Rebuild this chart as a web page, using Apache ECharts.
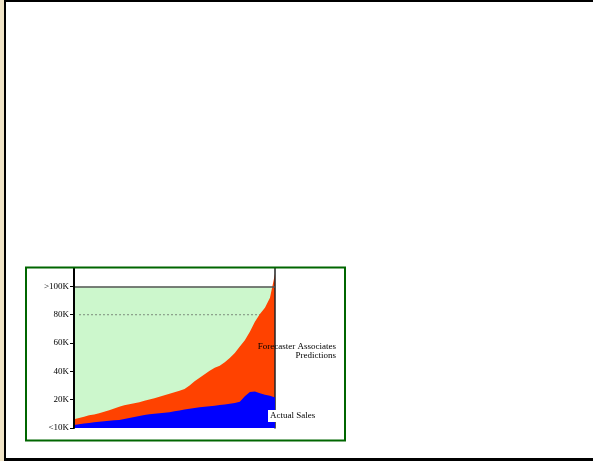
<!DOCTYPE html>
<html><head><meta charset="utf-8">
<script src="https://cdn.jsdelivr.net/npm/echarts@6/dist/echarts.min.js"></script>
<style>html,body{margin:0;padding:0;background:#fff}#c{width:593px;height:461px}</style>
</head><body><div id="c"></div>
<script>
// x positions (index only, no x labels in the original)
var categories = [];
for (var i = 0; i < 41; i++) categories.push(String(i + 1));

// Y tick labels (value -> label)
var tickValues = [0, 20, 40, 60, 80, 100];
var tickLabels = ['<10K', '20K', '40K', '60K', '80K', '>100K'];

// Forecaster Associates Predictions (top of the red area)
var predictions = [6.1, 7, 8, 9, 9.5, 10.5, 11.5, 12.5, 13.8, 15, 16, 16.8, 17.5, 18.2, 19.2, 20.2, 21, 22, 23.2, 24.2,
  25.2, 26.3, 27.5, 30, 33, 35.5, 38, 40.5, 42.5, 44, 46.5, 49.5, 53, 57.5, 62, 68, 75, 80.5, 85, 92, 109];

// Actual Sales (top of the blue area)
var actualSales = [2.1, 2.6, 3.1, 3.5, 4, 4.5, 4.8, 5.1, 5.4, 5.6, 6.3, 7, 7.7, 8.4, 9.1, 9.7, 10, 10.4, 10.8, 11.2,
  11.8, 12.4, 13, 13.6, 14.1, 14.6, 15, 15.4, 15.8, 16.2, 16.6, 17.1, 17.6, 18.5, 22.5, 25.5, 25.8, 24.5, 23.5, 22.8, 21.6];

// Background (>100K ceiling) and the 80K reference level
var ceiling = [];
var level80 = [];
for (var j = 0; j < categories.length; j++) { ceiling.push(100); level80.push(j === 0 ? null : 80); }

var chart = echarts.init(document.getElementById('c'), null, {renderer: 'canvas'});
var serif = '"Liberation Serif", "DejaVu Serif", serif';
chart.setOption({
  animation: false,
  backgroundColor: '#ffffff',
  grid: {left: 74, right: 318, top: 268, bottom: 33, containLabel: false},
  xAxis: {
    type: 'category', data: categories, boundaryGap: false,
    axisLine: {show: false}, axisTick: {show: false}, axisLabel: {show: false}, splitLine: {show: false}
  },
  yAxis: [{
    type: 'value', min: 0, max: 113, position: 'left', z: 10,
    axisLine: {show: true, onZero: false, lineStyle: {color: '#000', width: 2}},
    axisTick: {show: true, length: 4, inside: false, customValues: tickValues, lineStyle: {color: '#000', width: 1}},
    axisLabel: {
      show: true, customValues: tickValues, margin: 5, color: '#000', fontSize: 9, fontFamily: serif,
      formatter: function (v) { var k = tickValues.indexOf(v); return k >= 0 ? tickLabels[k] : ''; }
    },
    splitLine: {show: false}
  }, {
    type: 'value', min: 0, max: 113, position: 'right', z: 2,
    axisLine: {show: true, onZero: false, lineStyle: {color: '#222', width: 1.5}},
    axisTick: {show: false}, axisLabel: {show: false}, splitLine: {show: false}
  }],
  series: [{
    name: 'Ceiling', type: 'line', data: ceiling, showSymbol: false, symbol: 'none', z: 1,
    lineStyle: {width: 0}, areaStyle: {color: '#ccf7cc', opacity: 1}
  }, {
    name: '80K', type: 'line', data: level80, showSymbol: false, symbol: 'none', z: 1,
    lineStyle: {width: 1, color: '#7a8a7a', type: [2, 2]}
  }, {
    name: 'Forecaster Associates Predictions', type: 'line', data: predictions, showSymbol: false, symbol: 'none', z: 2,
    lineStyle: {width: 0}, areaStyle: {color: '#ff4200', opacity: 1}
  }, {
    name: 'Actual Sales', type: 'line', data: actualSales, showSymbol: false, symbol: 'none', z: 3,
    lineStyle: {width: 0}, areaStyle: {color: '#0000ff', opacity: 1},
    markLine: {
      silent: true, symbol: 'none', label: {show: false}, z: 10,
      lineStyle: {color: '#555', type: 'solid', width: 1.5},
      data: [{yAxis: 100}]
    }
  }],
  graphic: [
    {type: 'rect', left: 0, top: 0, shape: {width: 4, height: 461}, style: {fill: '#f0e4c6'}, z: 100},
    {type: 'rect', left: 4, top: 0, shape: {width: 2, height: 461}, style: {fill: '#000'}, z: 100},
    {type: 'rect', left: 4, top: 0, shape: {width: 589, height: 2}, style: {fill: '#000'}, z: 100},
    {type: 'rect', left: 4, top: 458, shape: {width: 589, height: 3}, style: {fill: '#000'}, z: 100},
    {type: 'rect', shape: {x: 26, y: 267.5, width: 319, height: 173}, style: {fill: 'none', stroke: '#006600', lineWidth: 2}, z: 100},
    {type: 'text', z: 100, style: {text: 'Forecaster Associates', x: 336, y: 347, textAlign: 'right', textVerticalAlign: 'middle', font: '9px ' + serif, fill: '#000'}},
    {type: 'text', z: 100, style: {text: 'Predictions', x: 336, y: 355.5, textAlign: 'right', textVerticalAlign: 'middle', font: '9px ' + serif, fill: '#000'}},
    {type: 'rect', z: 99, shape: {x: 268, y: 410, width: 51, height: 12}, style: {fill: '#fff'}},
    {type: 'text', z: 100, style: {text: 'Actual Sales', x: 270, y: 416, textAlign: 'left', textVerticalAlign: 'middle', font: '9px ' + serif, fill: '#000'}}
  ]
});
</script></body></html>
